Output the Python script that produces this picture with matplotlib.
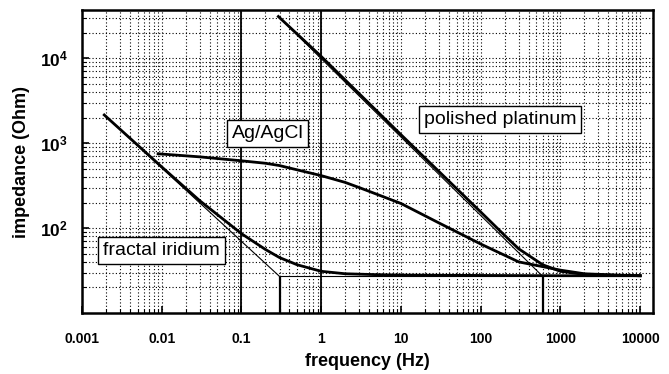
import matplotlib
matplotlib.use('Agg')
import matplotlib.pyplot as plt
from matplotlib.ticker import LogLocator, NullFormatter, FixedLocator, FixedFormatter

plt.rcParams['font.family'] = ['Liberation Sans', 'DejaVu Sans']
plt.rcParams['mathtext.fontset'] = 'custom'
plt.rcParams['mathtext.rm'] = 'Liberation Sans'
plt.rcParams['mathtext.bf'] = 'Liberation Sans:bold'

iridium_f = [0.0019, 0.01, 0.03, 0.1, 0.2, 0.3, 0.5, 1, 2, 5, 10, 100, 1000, 10000]
iridium_z = [2150, 525, 210, 86, 56, 45, 37, 31, 29, 28.3, 28, 27.7, 27.5, 27.5]

agcl_f = [0.009, 0.03, 0.1, 0.2, 0.3, 0.5, 1, 2, 3, 5, 10, 30, 100, 300, 1000, 2000, 5000, 10000]
agcl_z = [750, 690, 620, 580, 545, 485, 415, 345, 300, 250, 195, 115, 65, 40, 32, 29, 28, 27.5]

platinum_f = [0.29, 1, 10, 100, 200, 300, 600, 1000, 2000, 5000, 10000]
platinum_z = [31000, 10500, 1260, 155, 82, 57, 37, 31, 28.5, 27.8, 27.5]

# asymptotes (thin lines)
iridium_asym_f = [0.0019, 0.3]
iridium_asym_z = [2150, 27]
platinum_asym_f = [0.29, 600]
platinum_asym_z = [31000, 27]
resist_f = [0.3, 600]
resist_z = [27, 27]
corner_f = [0.3, 600]

x_ticks = [0.001, 0.01, 0.1, 1, 10, 100, 1000, 10000]
x_tick_labels = ['0.001', '0.01', '0.1', '1', '10', '100', '1000', '10000']
y_ticks = [1e2, 1e3, 1e4]
y_tick_labels = [r'$\mathbf{10^{2}}$', r'$\mathbf{10^{3}}$', r'$\mathbf{10^{4}}$']

fig = plt.figure(figsize=(6.69, 3.74), dpi=100)
ax = fig.add_axes([0.1226, 0.163, 0.8535, 0.8103])
ax.set_xscale('log')
ax.set_yscale('log')
ax.set_xlim(0.001, 14500)
ax.set_ylim(10, 37000)

# dotted grid, plus solid lines at 0.1 and 1 Hz
ax.grid(True, which='both', linestyle=(0, (1, 2)), color='black', linewidth=0.8)
ax.axvline(0.1, color='black', lw=1.3)
ax.axvline(1, color='black', lw=1.3)

ax.plot(iridium_asym_f, iridium_asym_z, color='black', lw=0.8)
ax.plot(platinum_asym_f, platinum_asym_z, color='black', lw=0.8)
ax.plot(resist_f, resist_z, color='black', lw=0.8)
ax.vlines(corner_f, 10, 27, color='black', lw=1.6)

ax.plot(iridium_f, iridium_z, color='black', lw=2.0)
ax.plot(agcl_f, agcl_z, color='black', lw=2.0)
ax.plot(platinum_f, platinum_z, color='black', lw=2.0)

box = dict(boxstyle='square,pad=0.25', facecolor='white', edgecolor='black', linewidth=1)
ax.text(0.212, 1310, 'Ag/AgCl', fontsize=14, ha='center', va='center', bbox=box)
ax.text(176, 1910, 'polished platinum', fontsize=14, ha='center', va='center', bbox=box)
ax.text(0.0099, 54, 'fractal iridium', fontsize=14, ha='center', va='center', bbox=box)

ax.xaxis.set_major_locator(FixedLocator(x_ticks))
ax.xaxis.set_major_formatter(FixedFormatter(x_tick_labels))
ax.xaxis.set_minor_locator(LogLocator(base=10, subs=range(2, 10), numticks=20))
ax.xaxis.set_minor_formatter(NullFormatter())
ax.yaxis.set_major_locator(FixedLocator(y_ticks))
ax.yaxis.set_major_formatter(FixedFormatter(y_tick_labels))
ax.yaxis.set_minor_locator(LogLocator(base=10, subs=range(2, 10), numticks=20))
ax.yaxis.set_minor_formatter(NullFormatter())

ax.tick_params(which='both', direction='in', top=False, right=False)
ax.tick_params(which='major', length=5, width=1.2)
ax.tick_params(which='minor', length=3, width=0.8)
ax.tick_params(axis='x', labelsize=10, pad=14)
ax.tick_params(axis='y', labelsize=12.5, pad=10)
for lbl in ax.get_xticklabels():
    lbl.set_fontweight('bold')

for s in ax.spines.values():
    s.set_linewidth(1.8)

ax.set_xlabel('frequency (Hz)', fontsize=13, fontweight='bold', labelpad=5)
ax.set_ylabel('impedance (Ohm)', fontsize=13, fontweight='bold', labelpad=7)

fig.savefig('out.png', dpi=100)
